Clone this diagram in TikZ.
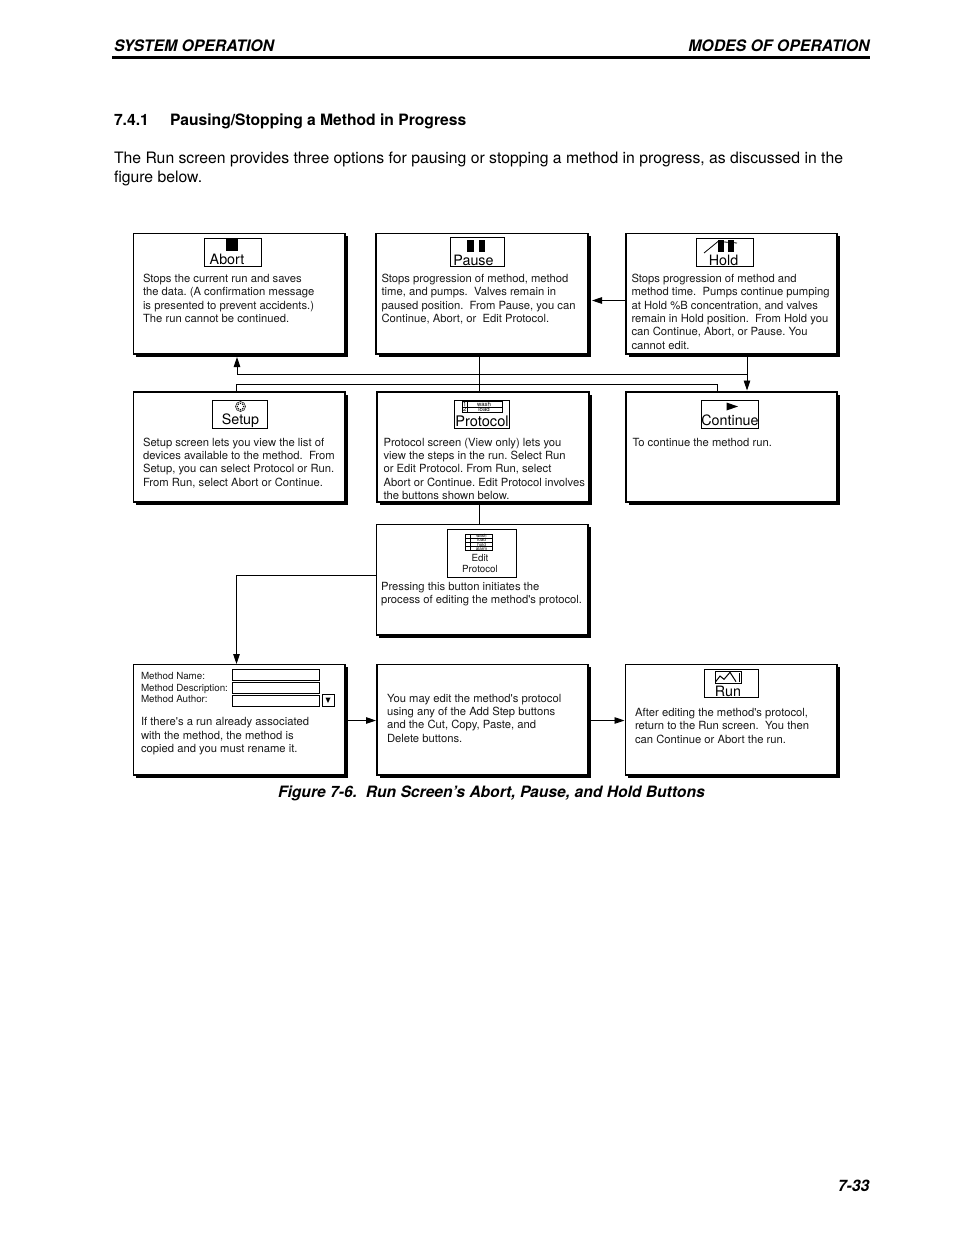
\documentclass[tikz,border=0pt]{standalone}
\usepackage{fontspec}
\setmainfont{TeX Gyre Heros}
\newfontfamily\plainf{TeX Gyre Heros}
\usetikzlibrary{fit,shadows,arrows.meta}
\tikzset{
  every node/.style={inner sep=0pt,outer sep=0pt},
  bx/.style={draw=black,fill=white,line width=1.1pt,general shadow={fill=black,shadow xshift=2.7pt,shadow yshift=-2.7pt}},
  btn/.style={draw=black,fill=white,line width=0.9pt},
  small/.style={font=\plainf\frenchspacing\fontsize{11.25}{13.3}\selectfont,align=left,anchor=base west,text=black!90},
  mlabel/.style={small,font=\plainf\fontsize{9.8}{11.5}\selectfont},
  lbl/.style={font=\fontsize{14.3}{14.3}\selectfont,anchor=base},
  tiny/.style={font=\fontsize{6}{6}\selectfont,anchor=base},
  tinier/.style={font=\fontsize{4.5}{5}\selectfont,anchor=base},
  body/.style={font=\fontsize{15.75}{19.3}\selectfont,align=left,anchor=base west},
  sect/.style={font=\fontsize{15.65}{19.5}\selectfont\bfseries,anchor=base west},
  headt/.style={font=\fontsize{15.8}{18}\selectfont\bfseries\itshape,anchor=base west},
  capt/.style={font=\fontsize{15.65}{18}\selectfont\bfseries\itshape,anchor=base west},
  conn/.style={draw=black,line width=0.9pt},
  arr/.style={conn,-{Triangle[length=10pt,width=6.5pt]}},
  icon/.style={fill=black,draw=none},
  thin/.style={draw=black,line width=0.8pt}
}
\newcommand{\bxn}[5]{\node[bx,fit={(#2,#3)(#4,#5)}] (#1) {};}
\newcommand{\btnn}[5]{\node[btn,fit={(#2,#3)(#4,#5)}] (#1) {};}
\begin{document}
\begin{tikzpicture}[x=1pt,y=-1pt]
\useasboundingbox (0,0) rectangle (954,1235);
\fill[white] (0,0) rectangle (954,1235);
% header
\node[headt] (hl) at (114,51) {SYSTEM OPERATION};
\node[headt,anchor=base east] (hr) at (869.5,51) {MODES OF OPERATION};
\coordinate (rl) at (112,57.3); \coordinate (rr) at (870,57.3);
\draw[line width=2.8pt] (rl) -- (rr);
\node[sect] (sec) at (114,125) {7.4.1};
\node[sect] (sectt) at (170,125) {Pausing/Stopping a Method in Progress};
\node[body] (intro) at (114,182.3) {The Run screen provides three options for pausing or stopping a method in progress, as discussed in the\\figure below.};
% boxes
\bxn{abort}{133.5}{233.5}{345}{354}
\bxn{pause}{376}{233.5}{588}{354}
\bxn{hold}{626}{233.5}{837}{354}
\bxn{setup}{133.5}{392}{345}{502}
\bxn{proto}{377}{392}{589}{502}
\bxn{cont}{626}{392}{837}{502}
\bxn{edit}{376.5}{524.5}{588}{635}
\bxn{meth}{133.5}{664.5}{345}{775}
\bxn{mid}{377}{664.5}{588}{775}
\bxn{run}{625.5}{664.5}{837}{775}
% connectors
\coordinate (pp) at (479,357);
\coordinate (pq) at (479,392);
\coordinate (h1) at (747,374.5);
\coordinate (a1) at (237,374.5);
\coordinate (s1) at (236.5,384.5);
\coordinate (c1) at (717,384.5);
\coordinate (st) at (236.5,392);
\coordinate (ct) at (717,392);
\coordinate (ab) at (237,357);
\coordinate (hb) at (747,357);
\coordinate (cta) at (747,390.5);
\coordinate (hl1) at (626,300.5);
\coordinate (pr1) at (592,300.5);
\coordinate (pb) at (479,505);
\coordinate (et) at (479,524.5);
\coordinate (el) at (376.5,575.5);
\coordinate (el2) at (236.5,575.5);
\coordinate (mt) at (236.5,664);
\coordinate (m1) at (347.5,720.5);
\coordinate (m2) at (376,720.5);
\coordinate (r1) at (590.5,720.5);
\coordinate (r2) at (624.5,720.5);
\draw[conn] (pp) -- (pq);
\draw[conn] (pb) -- (et);
\draw[conn] (st) -- (s1) -- (c1) -- (ct);
\draw[arr] (pq |- h1) -- (a1) -- (ab);
\draw[conn] (pq |- h1) -- (h1);
\draw[arr] (hb) -- (cta);
\draw[arr] (hl1) -- (pr1);
\draw[arr] (el) -- (el2) -- (mt);
\draw[arr] (m1) -- (m2);
\draw[arr] (r1) -- (r2);
% buttons
\btnn{babort}{204.5}{238}{261.5}{266}
\btnn{bpause}{450}{237.5}{504.5}{266}
\btnn{bhold}{696.5}{238}{753}{266}
\btnn{bsetup}{212}{400}{267}{428.5}
\btnn{bproto}{454.5}{400}{509}{428.5}
\btnn{bcont}{701}{400.5}{758}{428}
\btnn{bedit}{447}{529}{516}{577.5}
\btnn{brun}{704}{669}{758}{697}
\btnn{f1}{232}{669.5}{319.5}{680.5}
\btnn{f2}{232}{682.5}{319.5}{693}
\btnn{f3}{232}{695.5}{319.5}{706}
\btnn{dd}{322}{694}{334}{706.5}
% icons
\fill[icon] (226,239) rectangle (238,251);
\fill[icon] (467,239.5) rectangle (473.5,251.5);
\fill[icon] (478.5,239.5) rectangle (484.5,251.5);
\fill[icon] (718,240) rectangle (724,252);
\fill[icon] (728,240) rectangle (734,252);
\draw[thin] (704,253) -- (718,241.5) -- (737,243);
\foreach \a in {0,45,...,315}{\fill (240.5,406.5) ++(\a:3.2) circle (0.8pt);}
\draw[draw=black,line width=0.5pt] (240.5,406.5) circle (5);
\fill[icon] (726.5,402.5) -- (738,406.5) -- (726.5,410.5) -- cycle;
\fill[icon] (325.5,697.5) -- (330.5,697.5) -- (328,703) -- cycle;
% protocol table
\draw[thin] (462.5,401.7) rectangle (502.7,412.3);
\draw[thin] (462.5,406.9) -- (502.7,406.9);
\draw[thin] (467,401.7) -- (467,412.3);
\node[tiny] (p1) at (464.8,406.2) {1};
\node[tiny] (p2) at (464.8,411.5) {2};
\node[tiny] (pw) at (484,406.2) {wash};
\node[tiny] (pl) at (484,411.5) {load};
% edit table
\draw[thin] (465.3,534) rectangle (492.7,550.7);
\foreach \yy in {538.2,542.3,546.5}{\draw[thin] (465.3,\yy) -- (492.7,\yy);}
\draw[thin] (470.5,534) -- (470.5,550.7);
\node[tinier] (e1) at (481.5,537.6) {wash};
\node[tinier] (e2) at (481.5,541.8) {load};
\node[tinier] (e3) at (481.5,546) {hold};
\node[tinier] (e4) at (481.5,550.2) {alarm};
% run icon
\draw[draw=black,line width=1pt] (715,671.7) rectangle (741.7,683.3);
\draw[draw=black,line width=1pt] (715.7,681.7) -- (720,676) -- (724,679.3) -- (730,672.3) -- (736,681.7);
\draw[draw=black,line width=1pt] (739.3,673.3) -- (739.3,681.7);
% button labels
\node[lbl] (tabort) at (227,264) {Abort};
\node[lbl] (tpause) at (473.5,265) {Pause};
\node[lbl] (thold) at (723.5,265) {Hold};
\node[lbl] (tsetup) at (240.5,424) {Setup};
\node[lbl,font=\fontsize{14.6}{14.6}\selectfont] (tproto) at (482,426) {Protocol};
\node[lbl] (tcont) at (730,425) {Continue};
\node[lbl] (trun) at (728,696) {Run};
\node[mlabel,anchor=base] (ted1) at (480,561.8) {Edit};
\node[mlabel,anchor=base] (ted2) at (480,572.3) {Protocol};
% box text (anchored on the baseline of the last line)
\node[small] (xabort) at (143,322.3) {Stops the current run and saves\\the data. (A confirmation message\\is presented to prevent accidents.)\\The run cannot be continued.};
\node[small] (xpause) at (381.5,322.3) {Stops progression of method, method\\time, and pumps.~~Valves remain in\\paused position.~~From Pause, you can\\Continue, Abort, or~~Edit Protocol.};
\node[small] (xhold) at (631.5,349) {Stops progression of method and\\method time.~~Pumps continue pumping\\at Hold \%B concentration, and valves\\remain in Hold position.~~From Hold you\\can Continue, Abort, or Pause. You\\cannot edit.};
\node[small] (xsetup) at (143,486) {Setup screen lets you view the list of\\devices available to the method.~~From\\Setup, you can select Protocol or Run.\\From Run, select Abort or Continue.};
\node[small] (xproto) at (383.5,499.3) {Protocol screen (View only) lets you\\view the steps in the run. Select Run\\or Edit Protocol. From Run, select\\Abort or Continue. Edit Protocol involves\\the buttons shown below.};
\node[small] (xcont) at (632.5,446) {To continue the method run.};
\node[small] (xedit) at (381,603.5) {Pressing this button initiates the\\process of editing the method's protocol.};
\node[mlabel] (xm1) at (141,679) {Method Name:};
\node[mlabel] (xm2) at (141,691) {Method Description:};
\node[mlabel] (xm3) at (141,702) {Method Author:};
\node[small] (xmeth) at (141,752.5) {If there's a run already associated\\with the method, the method is\\copied and you must rename it.};
\node[small] (xmid) at (387,742) {You may edit the method's protocol\\using any of the Add Step buttons\\and the Cut, Copy, Paste, and\\Delete buttons.};
\node[small] (xrun) at (635,743) {After editing the method's protocol,\\return to the Run screen.~~You then\\can Continue or Abort the run.};
% caption and folio
\node[capt] (cap) at (278,797) {Figure 7-6.~~Run Screen’s Abort, Pause, and Hold Buttons};
\node[headt,anchor=base east] (folio) at (869.5,1191) {7-33};
\end{tikzpicture}
\end{document}
